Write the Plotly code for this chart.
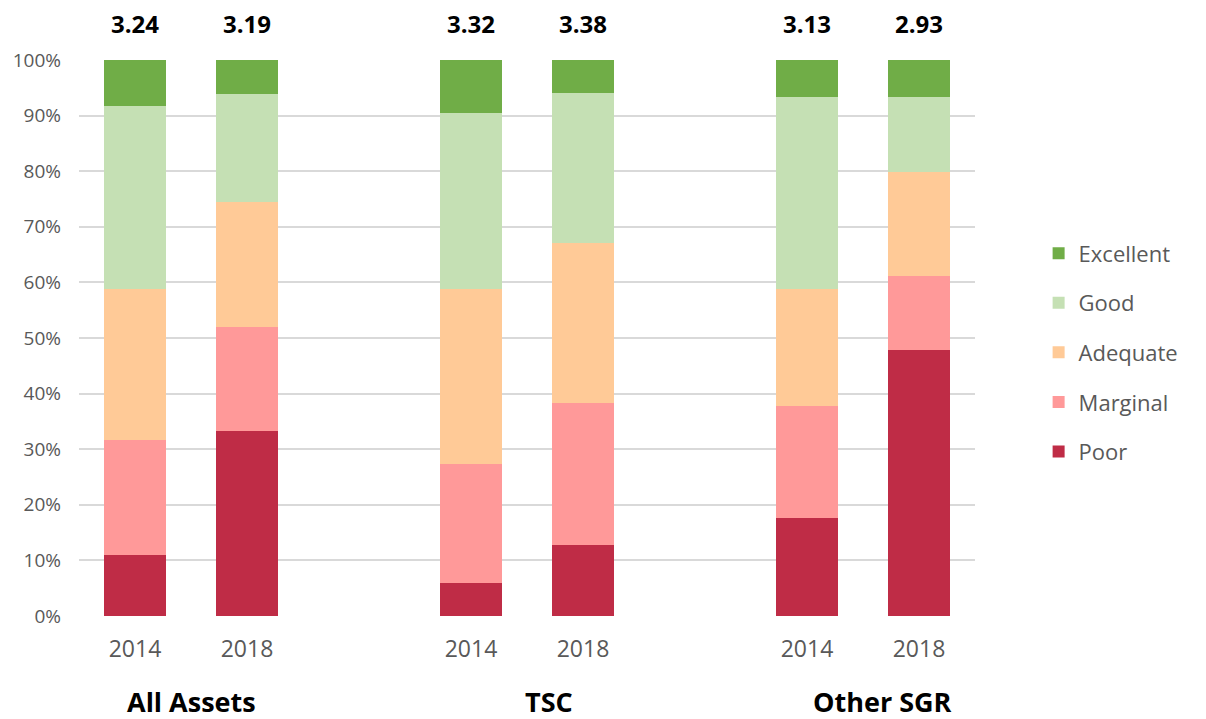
import plotly.graph_objects as go

# Data
groups = ["All Assets", "TSC", "Other SGR"]
years = ["2014", "2018", "2014", "2018", "2014", "2018"]
positions = [0, 1, 3, 4, 6, 7]
scores = ["3.24", "3.19", "3.32", "3.38", "3.13", "2.93"]

poor = [10.9, 33.2, 6.0, 12.8, 17.6, 47.8]
marginal = [20.8, 18.8, 21.4, 25.6, 20.1, 13.4]
adequate = [27.1, 22.5, 31.4, 28.7, 21.1, 18.6]
good = [32.9, 19.4, 31.7, 27.0, 34.6, 13.6]
excellent = [8.3, 6.1, 9.5, 5.9, 6.6, 6.6]

series = [
    ("Poor", poor, "#BF2C46"),
    ("Marginal", marginal, "#FF9999"),
    ("Adequate", adequate, "#FFCA97"),
    ("Good", good, "#C5E0B4"),
    ("Excellent", excellent, "#70AD47"),
]

group_centers = [0.5, 3.7, 6.67]

fig = go.Figure()
n = len(series)
for i, (name, vals, color) in enumerate(series):
    fig.add_trace(go.Bar(
        x=positions, y=vals, name=name, marker_color=color,
        marker_line_width=0, width=0.56, legendgroup=f"g{i}",
        legendrank=n - i,
    ))

font_family = "Open Sans, Noto Sans, DejaVu Sans, sans-serif"

annotations = []
for p, s in zip(positions, scores):
    annotations.append(dict(
        x=p, y=100, xref="x", yref="y", text=f"<b>{s}</b>", showarrow=False,
        yanchor="middle", yshift=37, borderpad=0,
        font=dict(size=24, color="#000000", family=font_family),
    ))
for g, c in zip(groups, group_centers):
    annotations.append(dict(
        x=c, y=0, xref="x", yref="paper", text=f"<b>{g}</b>", showarrow=False,
        yanchor="middle", yshift=-85, borderpad=0,
        font=dict(size=27, color="#000000", family=font_family),
    ))

fig.update_layout(
    barmode="stack",
    width=1198, height=711,
    margin=dict(l=71, r=231, t=52, b=103),
    plot_bgcolor="white", paper_bgcolor="white",
    font=dict(family=font_family, color="#595959"),
    xaxis=dict(
        range=[-0.5, 7.5], tickvals=positions, ticktext=years,
        tickfont=dict(size=23, color="#595959"), showgrid=False,
        zeroline=False, showline=False, ticks="", ticklen=0,
        ticklabelstandoff=17, automargin=False,
    ),
    yaxis=dict(
        range=[0, 100], dtick=10, ticksuffix="%",
        tickfont=dict(size=19, color="#595959"),
        showgrid=True, gridcolor="#D9D9D9", gridwidth=2,
        zeroline=False, showline=False, ticks="",
        ticklabelstandoff=17, automargin=False,
    ),
    legend=dict(
        x=1.071, y=0.69, xanchor="left", yanchor="top",
        font=dict(size=22, color="#595959", family=font_family),
        traceorder="grouped", tracegroupgap=18,
        itemwidth=30,
    ),
    annotations=annotations,
    bargap=0,
)

fig.write_html("out.html")
